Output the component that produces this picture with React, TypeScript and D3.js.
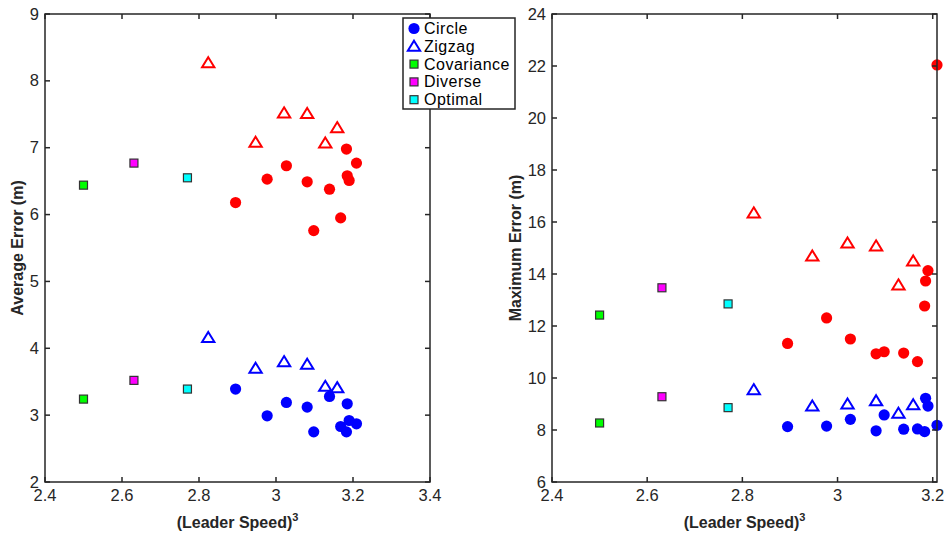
import React from "react";
import * as d3 from "d3";

const circleX = [2.895, 2.977, 3.027, 3.081, 3.098, 3.139, 3.168, 3.183, 3.185, 3.19, 3.209];
const zigzagX = [2.824, 2.947, 3.021, 3.081, 3.128, 3.159];
const squareX = [2.5, 2.631, 2.77];

const avgCircleHigh = [6.18, 6.53, 6.73, 6.49, 5.76, 6.38, 5.95, 6.98, 6.58, 6.51, 6.77];
const avgCircleLow = [3.39, 2.99, 3.19, 3.12, 2.75, 3.28, 2.83, 2.75, 3.17, 2.92, 2.87];
const avgZigzagHigh = [8.27, 7.08, 7.52, 7.51, 7.07, 7.3];
const avgZigzagLow = [4.16, 3.7, 3.8, 3.76, 3.43, 3.41];
const avgCovariance = [6.44, 3.24];
const avgDiverse = [6.77, 3.52];
const avgOptimal = [6.55, 3.39];

const maxCircleHigh = [11.33, 12.31, 11.5, 10.93, 11.01, 10.96, 10.63, 12.77, 13.73, 14.13, 22.04];
const maxCircleLow = [8.13, 8.15, 8.41, 7.97, 8.58, 8.03, 8.04, 7.94, 9.22, 8.92, 8.18];
const maxZigzagHigh = [16.35, 14.69, 15.19, 15.08, 13.58, 14.5];
const maxZigzagLow = [9.55, 8.92, 9.0, 9.12, 8.64, 8.97];
const maxCovariance = [12.42, 8.27];
const maxDiverse = [13.47, 9.28];
const maxOptimal = [12.85, 8.86];

const leftXTicks = [2.4, 2.6, 2.8, 3, 3.2, 3.4];
const leftYTicks = [2, 3, 4, 5, 6, 7, 8, 9];
const rightXTicks = [2.4, 2.6, 2.8, 3, 3.2];
const rightYTicks = [6, 8, 10, 12, 14, 16, 18, 20, 22, 24];

const legendLabels = ["Circle", "Zigzag", "Covariance", "Diverse", "Optimal"];

const RED = "#ff0000";
const BLUE = "#0000ff";
const GREEN = "#00ff00";
const MAGENTA = "#ff00ff";
const CYAN = "#00ffff";
const AXIS = "#262626";
const FONT = "'Liberation Sans', Arial, Helvetica, sans-serif";

function Circle({ x, y, color }: { x: number; y: number; color: string }) {
  return <circle cx={x} cy={y} r={5.6} fill={color} />;
}
function Tri({ x, y, color }: { x: number; y: number; color: string }) {
  const s = 5.6;
  const p = `${x},${y - s} ${x + s * 1.1},${y + s * 0.8} ${x - s * 1.1},${y + s * 0.8}`;
  return <polygon points={p} fill="none" stroke={color} strokeWidth={2} />;
}
function Sq({ x, y, color }: { x: number; y: number; color: string }) {
  const s = 8;
  return <rect x={x - s / 2} y={y - s / 2} width={s} height={s} fill={color} stroke="#333" strokeWidth={1.2} />;
}

type Panel = {
  left: number;
  right: number;
  top: number;
  bottom: number;
  xDomain: [number, number];
  yDomain: [number, number];
  xTicks: number[];
  yTicks: number[];
  ylabel: string;
  ylabelX: number;
  circleHigh: number[];
  circleLow: number[];
  zigHigh: number[];
  zigLow: number[];
  cov: number[];
  div: number[];
  opt: number[];
};

function Axes({ p }: { p: Panel }) {
  const x = d3.scaleLinear().domain(p.xDomain).range([p.left, p.right]);
  const y = d3.scaleLinear().domain(p.yDomain).range([p.bottom, p.top]);
  const tl = 5;
  const fmt = (v: number) => String(v);
  return (
    <g>
      {p.cov.map((v, i) => <Sq key={"c" + i} x={x(squareX[0])} y={y(v)} color={GREEN} />)}
      {p.div.map((v, i) => <Sq key={"d" + i} x={x(squareX[1])} y={y(v)} color={MAGENTA} />)}
      {p.opt.map((v, i) => <Sq key={"o" + i} x={x(squareX[2])} y={y(v)} color={CYAN} />)}
      {p.circleHigh.map((v, i) => <Circle key={"ch" + i} x={x(circleX[i])} y={y(v)} color={RED} />)}
      {p.zigHigh.map((v, i) => <Tri key={"zh" + i} x={x(zigzagX[i])} y={y(v)} color={RED} />)}
      {p.circleLow.map((v, i) => <Circle key={"cl" + i} x={x(circleX[i])} y={y(v)} color={BLUE} />)}
      {p.zigLow.map((v, i) => <Tri key={"zl" + i} x={x(zigzagX[i])} y={y(v)} color={BLUE} />)}
      <rect x={p.left} y={p.top} width={p.right - p.left} height={p.bottom - p.top} fill="none" stroke={AXIS} strokeWidth={1.5} />
      {p.xTicks.map((t) => (
        <g key={"xt" + t}>
          <line x1={x(t)} x2={x(t)} y1={p.bottom} y2={p.bottom - tl} stroke={AXIS} strokeWidth={1.5} />
          <line x1={x(t)} x2={x(t)} y1={p.top} y2={p.top + tl} stroke={AXIS} strokeWidth={1.5} />
          <text x={x(t)} y={p.bottom + 19} textAnchor="middle" fontSize={16.5} fontFamily={FONT} fill="#262626">{fmt(t)}</text>
        </g>
      ))}
      {p.yTicks.map((t) => (
        <g key={"yt" + t}>
          <line x1={p.left} x2={p.left + tl} y1={y(t)} y2={y(t)} stroke={AXIS} strokeWidth={1.5} />
          <line x1={p.right} x2={p.right - tl} y1={y(t)} y2={y(t)} stroke={AXIS} strokeWidth={1.5} />
          <text x={p.left - 6} y={y(t) + 5.5} textAnchor="end" fontSize={16.5} fontFamily={FONT} fill="#262626">{fmt(t)}</text>
        </g>
      ))}
      <text x={(p.left + p.right) / 2} y={p.bottom + 46} textAnchor="middle" fontSize={16} fontWeight="bold" fontFamily={FONT} fill="#262626">
        (Leader Speed)<tspan dy={-7} fontSize={11}>3</tspan>
      </text>
      <text transform={`translate(${p.ylabelX},${(p.top + p.bottom) / 2}) rotate(-90)`} textAnchor="middle" fontSize={16} fontWeight="bold" fontFamily={FONT} fill="#262626">
        {p.ylabel}
      </text>
    </g>
  );
}

export default function App() {
  const leftPanel: Panel = {
    left: 45, right: 430, top: 14, bottom: 482,
    xDomain: [2.4, 3.4], yDomain: [2, 9],
    xTicks: leftXTicks, yTicks: leftYTicks,
    ylabel: "Average Error (m)", ylabelX: 23,
    circleHigh: avgCircleHigh, circleLow: avgCircleLow,
    zigHigh: avgZigzagHigh, zigLow: avgZigzagLow,
    cov: avgCovariance, div: avgDiverse, opt: avgOptimal,
  };
  const rightPanel: Panel = {
    left: 552, right: 937, top: 14, bottom: 482,
    xDomain: [2.4, 3.209], yDomain: [6, 24],
    xTicks: rightXTicks, yTicks: rightYTicks,
    ylabel: "Maximum Error (m)", ylabelX: 521,
    circleHigh: maxCircleHigh, circleLow: maxCircleLow,
    zigHigh: maxZigzagHigh, zigLow: maxZigzagLow,
    cov: maxCovariance, div: maxDiverse, opt: maxOptimal,
  };
  const lx = 403, ly = 18, lw = 112, lh = 91;
  const rowH = 17.8;
  return (
    <svg width={946} height={538} style={{ position: "fixed", left: 0, top: 0, background: "#fff" }}>
      <rect width={946} height={538} fill="#fff" />
      <Axes p={leftPanel} />
      <Axes p={rightPanel} />
      <g>
        <rect x={lx} y={ly} width={lw} height={lh} fill="#fff" stroke={AXIS} strokeWidth={1.5} />
        {legendLabels.map((lab, i) => {
          const cy = ly + 10.5 + i * rowH;
          const mx = lx + 11;
          let marker: React.ReactNode;
          if (i === 0) marker = <Circle x={mx} y={cy} color={BLUE} />;
          else if (i === 1) marker = <Tri x={mx} y={cy} color={BLUE} />;
          else marker = <Sq x={mx} y={cy} color={[GREEN, MAGENTA, CYAN][i - 2]} />;
          return (
            <g key={lab}>
              {marker}
              <text x={lx + 21} y={cy + 5.5} fontSize={16} letterSpacing={0.5} fontFamily={FONT} fill="#000">{lab}</text>
            </g>
          );
        })}
      </g>
    </svg>
  );
}
